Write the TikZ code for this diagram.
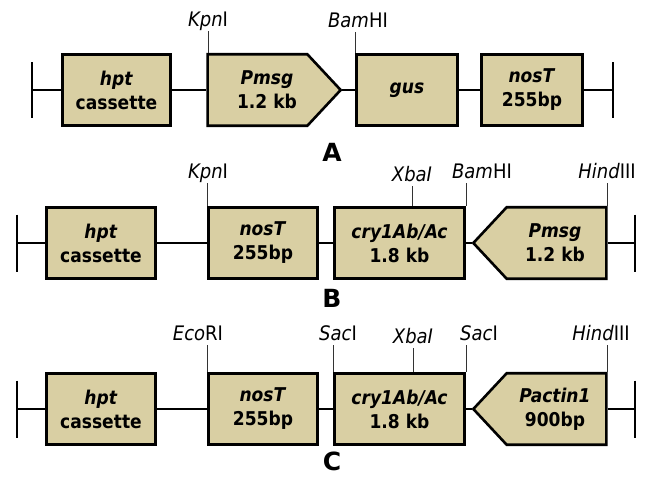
\documentclass[tikz,border=0pt]{standalone}
\usepackage{fontspec}
\setmainfont{DejaVu Sans Condensed}
\newfontfamily\rowfont{DejaVu Sans}
\usetikzlibrary{shapes.symbols}
\definecolor{genefill}{RGB}{217,207,163}

\begin{document}
\begin{tikzpicture}[x=1pt, y=-1pt,
		gene/.style={draw, line width=2.6pt, fill=genefill, minimum height=71.5pt, inner sep=0pt, align=center, font=\fontsize{19}{24}\selectfont\bfseries},
		genetext/.style={inner sep=0pt, align=center, font=\fontsize{19}{24}\selectfont\bfseries},
		promR/.style={gene, signal, signal to=east, signal from=nowhere, signal pointer angle=94},
		promL/.style={gene, signal, signal to=west, signal from=nowhere, signal pointer angle=94},
		site/.style={anchor=base, inner sep=5pt, text depth=0pt, font=\fontsize{20}{24}\selectfont},
		cut/.style={line width=0.8pt, black!80},
		backbone/.style={line width=2.4pt},
		endbar/.style={line width=2.6pt},
		rowlabel/.style={font=\rowfont\bfseries\fontsize{25}{30}\selectfont}]
			\useasboundingbox (0, 0) rectangle (646, 482);
			\node[gene, minimum width=108.5pt] (hptA) at (116.5, 90) {\textit{hpt}\\cassette};
			\node[promR, minimum width=133pt] (pmsgA) at (257.5, 90) {};
			\node[genetext] (pmsgAt) at (267, 90) {\textit{Pmsg}\\1.2 kb};
			\node[gene, minimum width=101.5pt] (gusA) at (407, 90) {\textit{gus}};
			\node[gene, minimum width=101.5pt] (nosA) at (532, 90) {\textit{nosT}\\255bp};
			\coordinate (lA) at (32, 90);
			\coordinate (rA) at (613, 90);
			\draw[endbar] ([yshift=28pt]lA) -- ([yshift=-28pt]lA);
			\draw[endbar] ([yshift=28pt]rA) -- ([yshift=-28pt]rA);
			\draw[backbone] (lA) -- (hptA) -- (pmsgA) -- (gusA) -- (nosA) -- (rA);
			\node[site] (kpnA) at (208, 26) {\textit{Kpn}I};
			\node[site] (bamA) at (358, 27) {\textit{Bam}HI};
			\draw[cut] (kpnA.south |- pmsgA.north) -- (kpnA.south);
			\draw[cut] (gusA.north west) -- (gusA.north west |- bamA.south);
			\node[rowlabel] (labA) at (332, 152) {A};

			\node[gene, minimum width=109.5pt] (hptB) at (101, 243) {\textit{hpt}\\cassette};
			\node[gene, minimum width=108.5pt] (nosB) at (263, 243) {\textit{nosT}\\255bp};
			\node[gene, minimum width=130.5pt] (cryB) at (399.5, 243) {\textit{cry1Ab/Ac}\\1.8 kb};
			\node[promL, minimum width=133pt] (pmsgB) at (556.5, 243) {};
			\node[genetext] (pmsgBt) at (555, 243) {\textit{Pmsg}\\1.2 kb};
			\coordinate (lB) at (17, 243);
			\coordinate (rB) at (635, 243);
			\draw[endbar] ([yshift=28.5pt]lB) -- ([yshift=-28.5pt]lB);
			\draw[endbar] ([yshift=28.5pt]rB) -- ([yshift=-28.5pt]rB);
			\draw[backbone] (lB) -- (hptB) -- (nosB) -- (cryB) -- (pmsgB) -- (rB);
			\node[site] (kpnB) at (208, 178) {\textit{Kpn}I};
			\node[site] (xbaB) at (412, 181) {\textit{XbaI}};
			\node[site] (bamB) at (482, 178) {\textit{Bam}HI};
			\node[site] (hindB) at (607, 178) {\textit{Hind}III};
			\draw[cut] (nosB.north west) -- (nosB.north west |- kpnB.south);
			\draw[cut] (xbaB.south |- cryB.north) -- (xbaB.south);
			\draw[cut] (cryB.north east) -- (cryB.north east |- bamB.south);
			\draw[cut] (pmsgB.east |- pmsgB.north) -- (pmsgB.east |- hindB.south);
			\node[rowlabel] (labB) at (332, 298) {B};

			\node[gene, minimum width=109.5pt] (hptC) at (101, 409) {\textit{hpt}\\cassette};
			\node[gene, minimum width=108.5pt] (nosC) at (263, 409) {\textit{nosT}\\255bp};
			\node[gene, minimum width=130.5pt] (cryC) at (399.5, 409) {\textit{cry1Ab/Ac}\\1.8 kb};
			\node[promL, minimum width=133pt] (pactC) at (556.5, 409) {};
			\node[genetext] (pactCt) at (555, 409) {\textit{Pactin1}\\900bp};
			\coordinate (lC) at (17, 409);
			\coordinate (rC) at (635, 409);
			\draw[endbar] ([yshift=28.5pt]lC) -- ([yshift=-28.5pt]lC);
			\draw[endbar] ([yshift=28.5pt]rC) -- ([yshift=-28.5pt]rC);
			\draw[backbone] (lC) -- (hptC) -- (nosC) -- (cryC) -- (pactC) -- (rC);
			\node[site] (ecoC) at (198, 340) {\textit{Eco}RI};
			\node[site] (sacCa) at (338, 340) {\textit{Sac}I};
			\node[site] (xbaC) at (413, 343) {\textit{XbaI}};
			\node[site] (sacCb) at (479, 340) {\textit{Sac}I};
			\node[site] (hindC) at (601, 340) {\textit{Hind}III};
			\draw[cut] (nosC.north west) -- (nosC.north west |- ecoC.south);
			\draw[cut] (cryC.north west) -- (cryC.north west |- sacCa.south);
			\draw[cut] (xbaC.south |- cryC.north) -- (xbaC.south);
			\draw[cut] (cryC.north east) -- (cryC.north east |- sacCb.south);
			\draw[cut] (pactC.east |- pactC.north) -- (pactC.east |- hindC.south);
			\node[rowlabel] (labC) at (332, 461) {C};
		\end{tikzpicture}
\end{document}
